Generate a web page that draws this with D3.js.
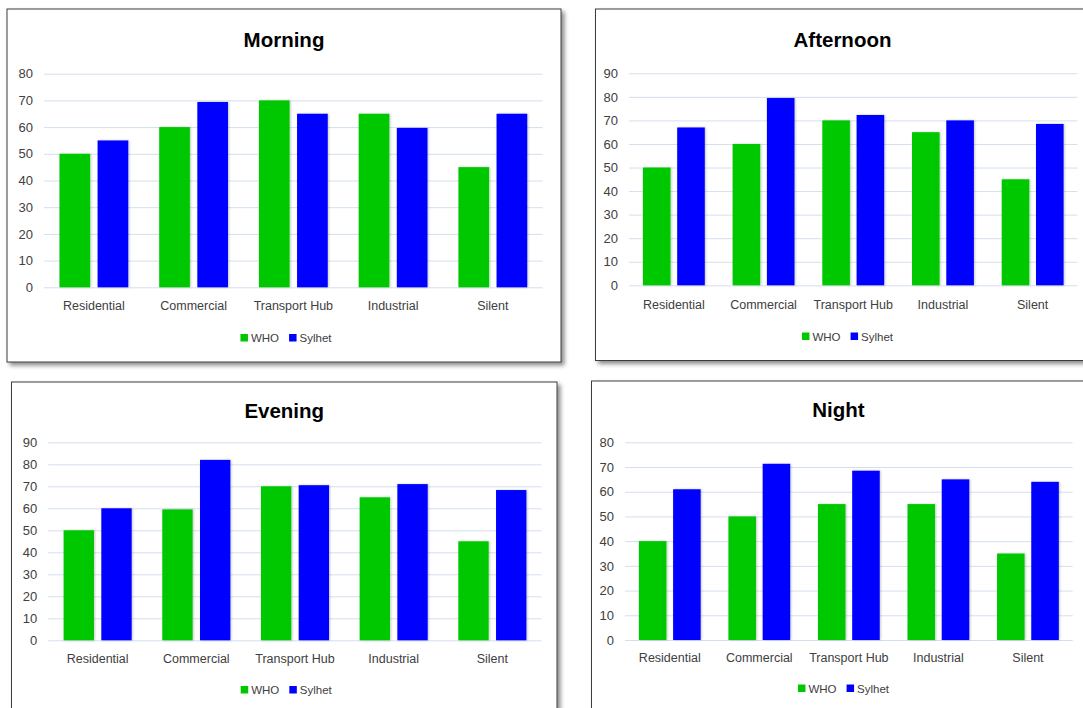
<!DOCTYPE html>
<html>
<head>
<meta charset="utf-8">
<script src="https://cdn.jsdelivr.net/npm/d3@7"></script>
<style>
  html, body { margin: 0; padding: 0; background: #ffffff; }
  svg { display: block; }
  text { font-family: "Liberation Sans", Arial, sans-serif; }
</style>
</head>
<body>
<svg id="chart" width="1083" height="708"></svg>
<script>
// Noise levels (dB) by land-use zone: WHO guideline vs. measured in Sylhet
const categories = ["Residential", "Commercial", "Transport Hub", "Industrial", "Silent"];
const seriesNames = ["WHO", "Sylhet"];
const periods = ["Morning", "Afternoon", "Evening", "Night"];

const whoMorning      = [50, 60, 70, 65, 45];
const sylhetMorning   = [55, 69.4, 65, 59.7, 65];
const whoAfternoon    = [50, 60, 70, 65, 45];
const sylhetAfternoon = [67, 79.5, 72.3, 70, 68.5];
const whoEvening      = [50, 59.5, 70, 65, 45];
const sylhetEvening   = [60, 82, 70.5, 71, 68.3];
const whoNight        = [40, 50, 55, 55, 35];
const sylhetNight     = [61, 71.3, 68.5, 65, 64];

const axisMax = [80, 90, 90, 80];

const seriesColors = { WHO: "#00c800", Sylhet: "#0000ff" };

// Panel geometry (frame box and plot area for each small chart)
const panels = [
  { name: periods[0], who: whoMorning,   sylhet: sylhetMorning,   max: axisMax[0],
    frame: { x: 7, y: 9, w: 554, h: 353 },
    plot: { left: 44, right: 542.7, top: 73.7, bottom: 287.3 },
    titleY: 47, catY: 309.5, legendY: 338 },
  { name: periods[1], who: whoAfternoon, sylhet: sylhetAfternoon, max: axisMax[1],
    frame: { x: 595.5, y: 9, w: 500, h: 351.5 },
    plot: { left: 629, right: 1077.5, top: 73.3, bottom: 285.3 },
    titleY: 47, catY: 308.5, legendY: 336.5 },
  { name: periods[2], who: whoEvening,   sylhet: sylhetEvening,   max: axisMax[2],
    frame: { x: 11.5, y: 382, w: 545.5, h: 400 },
    plot: { left: 48.3, right: 541.7, top: 442.3, bottom: 640.3 },
    titleY: 418, catY: 662.5, legendY: 690 },
  { name: periods[3], who: whoNight,     sylhet: sylhetNight,     max: axisMax[3],
    frame: { x: 591.5, y: 381, w: 500, h: 400 },
    plot: { left: 625, right: 1072.7, top: 442.3, bottom: 640 },
    titleY: 417, catY: 662, legendY: 688.5 }
];

const svg = d3.select("#chart");
const defs = svg.append("defs");

const frameShadow = defs.append("filter").attr("id", "frameShadow")
  .attr("x", "-5%").attr("y", "-5%").attr("width", "115%").attr("height", "115%");
frameShadow.append("feDropShadow")
  .attr("dx", 3).attr("dy", 3).attr("stdDeviation", 2)
  .attr("flood-color", "#000").attr("flood-opacity", 0.45);

const barShadow = defs.append("filter").attr("id", "barShadow")
  .attr("x", "-20%").attr("y", "-5%").attr("width", "140%").attr("height", "110%");
barShadow.append("feDropShadow")
  .attr("dx", 1).attr("dy", 0).attr("stdDeviation", 1)
  .attr("flood-color", "#000").attr("flood-opacity", 0.22);

panels.forEach(p => {
  const g = svg.append("g").attr("class", "panel");

  // chart area frame
  g.append("rect")
    .attr("x", p.frame.x).attr("y", p.frame.y)
    .attr("width", p.frame.w).attr("height", p.frame.h)
    .attr("fill", "#ffffff")
    .attr("stroke", "#3c3c3c").attr("stroke-width", 1)
    .attr("filter", "url(#frameShadow)");

  // title
  g.append("text")
    .attr("x", p.frame.x + p.frame.w / 2 - (p.frame.w > 540 ? 0 : 3))
    .attr("y", p.titleY)
    .attr("text-anchor", "middle")
    .attr("font-size", 20.5).attr("font-weight", "bold")
    .attr("fill", "#000")
    .text(p.name);

  const x0 = d3.scaleBand().domain(categories).range([p.plot.left, p.plot.right]).padding(0);
  const s = x0.step();
  const x1 = d3.scaleBand().domain(seriesNames)
    .range([0.155 * s, 0.845 * s]).paddingInner(0.195).paddingOuter(0);
  const y = d3.scaleLinear().domain([0, p.max]).range([p.plot.bottom, p.plot.top]);
  const ticks = d3.range(0, p.max + 1, 10);

  // horizontal gridlines
  const yAxis = d3.axisLeft(y).tickValues(ticks)
    .tickSize(-(p.plot.right - p.plot.left)).tickPadding(11)
    .tickFormat(d3.format("d"));
  const ya = g.append("g")
    .attr("transform", `translate(${p.plot.left},0)`)
    .call(yAxis);
  ya.select(".domain").remove();
  ya.selectAll(".tick line").attr("stroke", "#d3dfee").attr("stroke-width", 1);
  ya.selectAll(".tick text")
    .attr("font-size", 13).attr("fill", "#404040")
    .attr("font-family", "'Liberation Sans', Arial, sans-serif");

  // bars
  const rows = categories.map((c, i) => ({ cat: c, WHO: p.who[i], Sylhet: p.sylhet[i] }));
  const groups = g.append("g").selectAll("g").data(rows).join("g")
    .attr("transform", d => `translate(${x0(d.cat)},0)`);
  groups.selectAll("rect")
    .data(d => seriesNames.map(k => ({ key: k, value: d[k] })))
    .join("rect")
    .attr("x", d => x1(d.key))
    .attr("width", x1.bandwidth())
    .attr("y", d => y(d.value))
    .attr("height", d => y(0) - y(d.value))
    .attr("fill", d => seriesColors[d.key])
    .attr("filter", "url(#barShadow)");

  // category labels
  const xAxis = d3.axisBottom(x0).tickSize(0).tickPadding(0);
  const xa = g.append("g")
    .attr("transform", `translate(0,${p.catY})`)
    .call(xAxis);
  xa.select(".domain").remove();
  xa.selectAll(".tick text")
    .attr("dy", 0)
    .attr("font-size", 12.5).attr("fill", "#404040")
    .attr("font-family", "'Liberation Sans', Arial, sans-serif");

  // legend
  const legend = g.append("g");
  const items = [];
  let cursor = 0;
  seriesNames.forEach(k => {
    const item = legend.append("g").attr("transform", `translate(${cursor},0)`);
    item.append("rect").attr("x", 0).attr("y", -4).attr("width", 7.5).attr("height", 7.5)
      .attr("fill", seriesColors[k]);
    const t = item.append("text").attr("x", 10.5).attr("y", 4)
      .attr("font-size", 11.5).attr("fill", "#404040").text(k);
    const w = t.node().getComputedTextLength();
    cursor += 10.5 + w + 10;
    items.push(item);
  });
  const legendWidth = cursor - 10;
  const cx = p.frame.x + p.frame.w / 2 + 2;
  legend.attr("transform", `translate(${cx - legendWidth / 2},${p.legendY})`);
});
</script>
</body>
</html>
